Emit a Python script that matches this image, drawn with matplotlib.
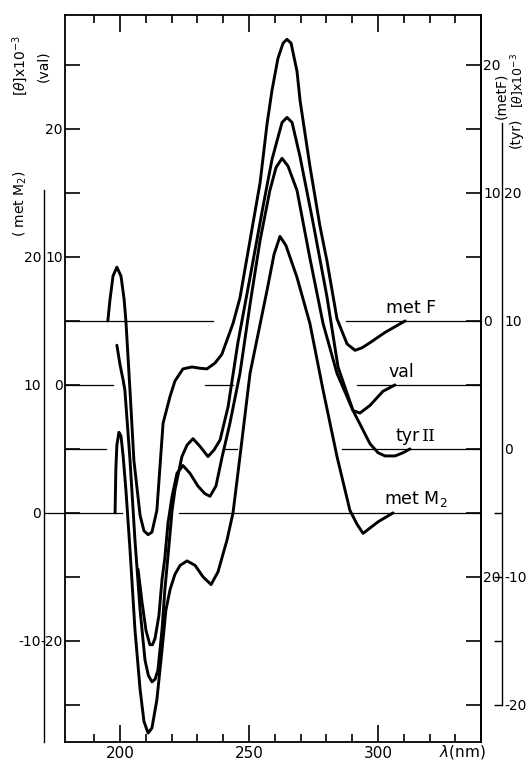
import matplotlib
matplotlib.use("Agg")
import matplotlib.pyplot as plt
import numpy as np

# CD spectra of four tRNAs, [theta] x 10^-3 against wavelength (nm)
metF_nm = [195.3, 196.1, 197.3, 198.8, 200.4, 201.6, 202.3, 203.9, 205.4, 207.8, 209.3, 210.9,
           212.4, 214.3, 216.7, 219.4, 221.3, 224.4, 227.9, 231.0, 233.7, 236.8, 239.5, 243.8,
           246.5, 250.4, 254.3, 257.0, 258.9, 261.2, 263.2, 264.7, 266.3, 268.6, 269.8, 273.6,
           277.5, 280.2, 284.1, 288.0, 291.1, 293.8, 296.9, 302.7, 310.5]
metF_val = [0, 1.6, 3.5, 4.2, 3.5, 1.7, 0, -5.5, -10.9, -15.2, -16.4, -16.7,
            -16.5, -14.8, -8.0, -5.9, -4.7, -3.75, -3.6, -3.7, -3.75, -3.3, -2.6, -0.2,
            1.8, 6.3, 10.8, 15.4, 18.0, 20.5, 21.7, 22.0, 21.7, 19.5, 17.2, 12.1,
            7.4, 4.7, 0.16, -1.8, -2.3, -2.1, -1.7, -0.9, 0]

val_nm = [198.8, 200.0, 201.2, 201.9, 203.9, 205.8, 207.8, 209.7, 211.0, 212.4, 213.6, 214.7,
          216.3, 217.4, 218.6, 220.2, 221.3, 224.0, 226.0, 228.3, 231.0, 234.1, 236.4, 238.8,
          241.9, 245.7, 250.4, 255.4, 258.9, 260.9, 262.8, 264.7, 266.7, 269.8, 274.8, 280.2,
          284.5, 290.3, 293.0, 296.9, 301.9, 306.6]
val_val = [3.1, 1.6, 0.4, -0.4, -5.9, -12.1, -17.6, -21.5, -22.7, -23.2, -23.0, -22.3,
           -19.1, -16.0, -13.4, -9.8, -8.2, -5.6, -4.7, -4.2, -4.8, -5.6, -5.1, -4.3,
           -1.7, 3.3, 8.4, 13.9, 17.6, 19.1, 20.5, 20.9, 20.5, 17.8, 12.7, 6.9,
           1.4, -2.0, -2.2, -1.6, -0.5, 0]

tyr_nm = [207.0, 208.5, 210.1, 211.6, 212.6, 213.6, 215.1, 216.3, 217.4, 218.6, 220.2, 222.1,
          224.4, 227.1, 230.2, 232.9, 234.9, 237.2, 239.5, 242.6, 246.5, 250.4, 254.3, 258.1,
          260.5, 262.8, 265.1, 268.6, 273.6, 278.7, 284.1, 290.3, 296.9, 300.0, 302.7, 306.6,
          309.7, 312.4]
tyr_val = [-9.4, -11.9, -14.2, -15.3, -15.3, -14.8, -13.0, -10.2, -8.5, -5.8, -3.7, -1.9,
           -1.3, -1.9, -2.9, -3.5, -3.7, -2.9, -0.7, 2.0, 5.9, 11.3, 16.3, 20.2,
           22.0, 22.7, 22.1, 20.2, 14.9, 9.8, 5.9, 3.0, 0.4, -0.3, -0.55, -0.55,
           -0.3, 0]

metM2_nm = [198.1, 198.4, 198.8, 199.6, 200.4, 201.2, 202.3, 203.9, 205.8, 207.8, 209.3, 210.9,
            212.4, 214.3, 216.3, 217.8, 219.4, 221.3, 223.3, 226.0, 229.1, 232.2, 235.3, 238.0,
            241.5, 243.8, 246.5, 250.4, 257.0, 259.7, 262.0, 264.3, 268.6, 273.6, 278.7, 284.1,
            289.1, 291.9, 294.2, 300.0, 305.8]
metM2_val = [0, 3.4, 5.3, 6.3, 6.0, 4.5, 1.8, -2.9, -9.1, -13.8, -16.3, -17.2,
             -16.8, -14.6, -10.7, -7.6, -6.0, -4.8, -4.1, -3.75, -4.1, -5.0, -5.6, -4.6,
             -2.1, 0, 4.4, 10.9, 17.4, 20.2, 21.6, 20.9, 18.4, 14.8, 9.6, 4.4,
             0.2, -0.9, -1.6, -0.7, 0]

# vertical shift of each trace on the common (val) scale
offsets = {"metF": 5.0, "val": 0.0, "tyr": -5.0, "metM2": -10.0}

# pieces of the zero line drawn for each trace
zero_segments = {
    "metF": [(178.7, 236.0), (287.6, 339.9)],
    "val": [(178.7, 197.3), (232.9, 243.8), (291.9, 339.9)],
    "tyr": [(178.7, 194.6), (239.9, 245.3), (286.0, 339.9)],
    "metM2": [(170.9, 200.8), (222.9, 339.9)],
}

traces = {
    "metF": (metF_nm, metF_val),
    "val": (val_nm, val_val),
    "tyr": (tyr_nm, tyr_val),
    "metM2": (metM2_nm, metM2_val),
}

XLIM = (178.7, 339.9)
YLIM = (-27.9, 28.9)
FS = 10

fig = plt.figure(figsize=(5.3, 7.6), dpi=100)
ax = fig.add_axes([65 / 530, 1 - 742 / 760, 416 / 530, 727 / 760])

for key, (nm, vals) in traces.items():
    off = offsets[key]
    ax.plot(nm, np.asarray(vals) + off, color="black", lw=2.1,
            solid_capstyle="round", solid_joinstyle="round")
    for a, b in zero_segments[key]:
        ax.plot([a, b], [off, off], color="black", lw=0.9, clip_on=False)

ax.set_xlim(*XLIM)
ax.set_ylim(*YLIM)
for s in ax.spines.values():
    s.set_linewidth(1.3)

ax.set_xticks([200, 250, 300])
ax.set_xticks(np.arange(190, 340, 10), minor=True)
ax.tick_params(axis="x", which="major", direction="in", length=12, width=1.2,
               top=True, labelsize=FS + 1, pad=3)
ax.tick_params(axis="x", which="minor", direction="in", length=6, width=1.2, top=True)

# left axis: val
left_ticks = np.arange(-25, 26, 5)
left_labels = {20: "20", 10: "10", 0: "0", -20: "-20"}
ax.set_yticks(left_ticks)
ax.set_yticklabels([left_labels.get(int(t), "") for t in left_ticks])
ax.tick_params(axis="y", direction="in", length=11, width=1.2, labelsize=FS, pad=1.5)

# right axis: metF
axr = ax.twinx()
axr.set_ylim(YLIM[0] - offsets["metF"], YLIM[1] - offsets["metF"])
right_ticks = np.arange(-30, 21, 5)
right_labels = {20: "20", 10: "10", 0: "0", -20: "20"}
axr.set_yticks(right_ticks)
axr.set_yticklabels([right_labels.get(int(t), "") for t in right_ticks])
axr.tick_params(axis="y", direction="in", length=11, width=1.2, labelsize=FS, pad=1.5)
for s in axr.spines.values():
    s.set_visible(False)
axr.spines["right"].set_visible(True)
axr.spines["right"].set_linewidth(1.3)

# outer right axis: tyr
axt = ax.twinx()
axt.set_ylim(YLIM[0] - offsets["tyr"], YLIM[1] - offsets["tyr"])
for s in axt.spines.values():
    s.set_visible(False)
axt.spines["right"].set_visible(True)
axt.spines["right"].set_position(("axes", 437 / 416))
axt.spines["right"].set_bounds(-20, 25.5)
axt.spines["right"].set_linewidth(1.0)
axt.yaxis.remove_overlapping_locs = False
axt.set_yticks([20, 10, 0, -10, -20])
axt.set_yticklabels(["20", "10", "0", "-10", "-20"])
axt.set_yticks([-5, -10, -15, -20], minor=True)
axt.tick_params(axis="y", which="major", length=0, labelsize=FS, pad=1.5)
axt.tick_params(axis="y", which="minor", direction="in", length=6, width=1.0)

# outer left axis: metM2
axm = ax.twinx()
axm.set_ylim(YLIM[0] - offsets["metM2"], YLIM[1] - offsets["metM2"])
for s in axm.spines.values():
    s.set_visible(False)
axm.yaxis.tick_left()
axm.spines["left"].set_visible(True)
axm.spines["left"].set_position(("axes", -21 / 416))
axm.spines["left"].set_bounds(YLIM[0] - offsets["metM2"], 25.2)
axm.spines["left"].set_linewidth(1.0)
axm.set_yticks([20, 10, 0, -10])
axm.set_yticklabels(["20", "10", "0", "-10"])
axm.tick_params(axis="y", length=0, labelsize=FS, pad=2)

# trace names
name_fs = 12.5
ax.text(303.1, offsets["metF"] + 0.3, "met F", fontsize=name_fs, va="bottom", ha="left")
ax.text(303.9, offsets["val"] + 0.3, "val", fontsize=name_fs, va="bottom", ha="left")
ax.text(306.6, offsets["tyr"] + 0.3, "tyr", fontsize=name_fs, va="bottom", ha="left")
ax.text(317.0, offsets["tyr"] + 0.3, "II", fontsize=name_fs, va="bottom", ha="left",
        family="DejaVu Serif")
ax.text(302.3, offsets["metM2"] + 0.3, r"met M$_2$", fontsize=name_fs, va="bottom", ha="left")

# axis captions
fig.text(20 / 530, 1 - 66 / 760, r"[$\theta$]x10$^{-3}$", rotation=90,
         ha="center", va="center", fontsize=10)
fig.text(43 / 530, 1 - 66 / 760, "(val)", rotation=90, ha="center", va="center", fontsize=10)
fig.text(20 / 530, 1 - 204 / 760, r"( met M$_2$)", rotation=90, ha="center", va="center",
         fontsize=10)
fig.text(501 / 530, 1 - 96 / 760, "(metF)", rotation=90, ha="center", va="center", fontsize=10)
fig.text(518 / 530, 1 - 80 / 760, r"[$\theta$]x10$^{-3}$", rotation=90, ha="center",
         va="center", fontsize=9)
fig.text(516 / 530, 1 - 133 / 760, "(tyr)", rotation=90, ha="center", va="center", fontsize=10)
fig.text(462 / 530, 1 - 752 / 760, r"$\lambda$(nm)", ha="center", va="center", fontsize=11)

fig.savefig("out.png", dpi=100)
